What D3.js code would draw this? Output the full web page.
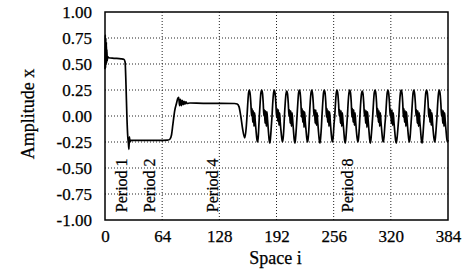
<!DOCTYPE html>
<html>
<head>
<meta charset="utf-8">
<script src="https://cdn.jsdelivr.net/npm/d3@7"></script>
<style>
  body { margin: 0; background: #fff; }
  svg text { font-family: "Liberation Serif", "Times New Roman", serif; fill: #000; stroke: #000; stroke-width: 0.25px; }
</style>
</head>
<body>
<svg id="chart" width="464" height="275"></svg>
<script>
// tick values
const xTicks = [0, 64, 128, 192, 256, 320, 384];
const yTicks = [-1.00, -0.75, -0.50, -0.25, 0.00, 0.25, 0.50, 0.75, 1.00];

// labels: [text, space i, amplitude at text start]
const periodLabels = [
  ['Period 1', 24.5, -0.925],
  ['Period 2', 56, -0.925],
  ['Period 4', 126.5, -0.925],
  ['Period 8', 277.5, -0.925]
];

// transient part [i, x]
const transientPts = [
  [0,0.45],[0.3,0.78],[0.6,0.46],[0.9,0.75],[1.2,0.49],[1.5,0.71],[1.8,0.51],[2.1,0.64],[2.5,0.53],[3,0.57],
  [4,0.56],[10,0.555],[18,0.55],[21,0.545],[22.5,0.52],[23.5,0.3],[24.5,0.0],[25.5,-0.2],[26.2,-0.26],
  [26.8,-0.32],[27.3,-0.2],[28,-0.25],[29,-0.235],[40,-0.235],[60,-0.235],[70,-0.232],[72.5,-0.225],
  [74.5,-0.18],[76,-0.08],[78,0.05],[80,0.12],[81.5,0.17],[82.5,0.18],[83.5,0.10],[84.5,0.16],[85.5,0.10],
  [86.5,0.15],[87.5,0.11],[88.5,0.14],[89.5,0.115],[90.5,0.135],[92,0.12],[95,0.125],[110,0.122],
  [130,0.122],[145,0.12],[148,0.115],[150,0.09],[152,0.0],[154,-0.12],[156.5,-0.21],[158,-0.12]
];

// periodic part, one row per peak
const periodicPts = [
  [159.0,0.0],[159.9,0.13],[160.7,0.22],[161.6,0.25],[162.5,0.21],[163.3,0.12],[164.1,0.0],[164.7,0.07],[165.4,-0.06],[166.1,0.05],[166.8,-0.1],[167.5,0.03],[168.2,-0.05],[169.0,-0.13],[170.0,-0.22],[170.8,-0.25],[171.6,-0.2],[172.2,-0.1],
  [172.8,0.0],[173.7,0.13],[174.5,0.22],[175.4,0.25],[176.3,0.22],[177.1,0.13],[177.9,0.0],[178.5,0.06],[179.2,-0.07],[179.9,0.05],[180.6,-0.1],[181.3,0.04],[182.0,-0.04],[182.8,-0.13],[183.8,-0.23],[184.6,-0.26],[185.4,-0.2],[186.2,-0.1],
  [187.0,0.0],[187.9,0.14],[188.7,0.22],[189.6,0.25],[190.5,0.21],[191.3,0.12],[192.1,-0.01],[192.7,0.07],[193.4,-0.05],[194.1,0.06],[194.8,-0.09],[195.5,0.03],[196.2,-0.06],[197.0,-0.14],[198.0,-0.22],[198.8,-0.25],[199.6,-0.2],[200.4,-0.09],
  [200.9,0.0],[201.8,0.13],[202.6,0.21],[203.5,0.24],[204.4,0.21],[205.2,0.12],[206.0,0.0],[206.6,0.06],[207.3,-0.07],[208.0,0.05],[208.7,-0.1],[209.4,0.03],[210.1,-0.04],[210.9,-0.13],[211.9,-0.23],[212.7,-0.26],[213.5,-0.2],[214.3,-0.1],
  [215.0,0.0],[215.9,0.13],[216.7,0.22],[217.6,0.25],[218.5,0.22],[219.3,0.13],[220.1,-0.01],[220.7,0.07],[221.4,-0.06],[222.1,0.05],[222.8,-0.11],[223.5,0.04],[224.2,-0.05],[225.0,-0.13],[226.0,-0.22],[226.8,-0.25],[227.6,-0.2],[228.4,-0.1],
  [228.9,0.0],[229.8,0.14],[230.6,0.22],[231.5,0.25],[232.4,0.21],[233.2,0.12],[234.0,0.0],[234.6,0.06],[235.3,-0.07],[236.0,0.06],[236.7,-0.09],[237.4,0.03],[238.1,-0.05],[238.9,-0.14],[239.9,-0.23],[240.7,-0.26],[241.5,-0.2],[242.3,-0.1],
  [242.9,0.0],[243.8,0.13],[244.6,0.22],[245.5,0.25],[246.4,0.22],[247.2,0.13],[248.0,-0.01],[248.6,0.07],[249.3,-0.06],[250.0,0.05],[250.7,-0.1],[251.4,0.04],[252.1,-0.04],[252.9,-0.13],[253.9,-0.22],[254.7,-0.25],[255.5,-0.2],[256.3,-0.09],
  [257.2,0.0],[258.1,0.13],[258.9,0.22],[259.8,0.25],[260.7,0.21],[261.5,0.12],[262.3,0.0],[262.9,0.06],[263.6,-0.07],[264.3,0.05],[265.0,-0.1],[265.7,0.03],[266.4,-0.05],[267.2,-0.13],[268.2,-0.23],[269.0,-0.26],[269.8,-0.2],[270.6,-0.1],
  [271.4,0.0],[272.3,0.14],[273.1,0.22],[274.0,0.25],[274.9,0.22],[275.7,0.13],[276.5,-0.01],[277.1,0.07],[277.8,-0.06],[278.5,0.06],[279.2,-0.09],[279.9,0.03],[280.6,-0.05],[281.4,-0.14],[282.4,-0.22],[283.2,-0.25],[284.0,-0.2],[284.8,-0.1],
  [285.4,0.0],[286.3,0.13],[287.1,0.21],[288.0,0.24],[288.9,0.21],[289.7,0.12],[290.5,0.0],[291.1,0.06],[291.8,-0.07],[292.5,0.05],[293.2,-0.11],[293.9,0.04],[294.6,-0.04],[295.4,-0.13],[296.4,-0.23],[297.2,-0.26],[298.0,-0.2],[298.9,-0.1],
  [299.7,0.0],[300.6,0.13],[301.4,0.22],[302.3,0.25],[303.2,0.22],[304.0,0.13],[304.8,-0.01],[305.4,0.07],[306.1,-0.06],[306.8,0.05],[307.5,-0.1],[308.2,0.03],[308.9,-0.05],[309.7,-0.13],[310.7,-0.22],[311.5,-0.25],[312.4,-0.2],[313.3,-0.09],
  [314.2,0.0],[315.1,0.13],[315.9,0.22],[316.8,0.25],[317.7,0.21],[318.5,0.12],[319.3,0.0],[319.9,0.06],[320.6,-0.07],[321.3,0.06],[322.0,-0.09],[322.7,0.03],[323.4,-0.05],[324.3,-0.14],[325.3,-0.23],[326.1,-0.26],[327.1,-0.2],[328.1,-0.1],
  [329.0,0.0],[329.9,0.14],[330.7,0.22],[331.6,0.25],[332.5,0.22],[333.3,0.13],[334.1,-0.01],[334.7,0.07],[335.4,-0.06],[336.1,0.05],[336.8,-0.1],[337.5,0.04],[338.2,-0.04],[339.0,-0.13],[340.0,-0.22],[340.8,-0.25],[341.6,-0.2],[342.4,-0.1],
  [343.2,0.0],[344.1,0.13],[344.9,0.22],[345.8,0.25],[346.7,0.21],[347.5,0.12],[348.3,0.0],[348.9,0.06],[349.6,-0.07],[350.3,0.05],[351.0,-0.1],[351.7,0.03],[352.4,-0.05],[353.2,-0.13],[354.2,-0.23],[355.0,-0.26],[355.8,-0.2],[356.6,-0.1],
  [357.4,0.0],[358.3,0.13],[359.1,0.22],[360.0,0.25],[360.9,0.22],[361.7,0.13],[362.5,-0.01],[363.1,0.07],[363.8,-0.06],[364.5,0.06],[365.2,-0.09],[365.9,0.03],[366.6,-0.05],[367.4,-0.14],[368.4,-0.22],[369.2,-0.25],[370.0,-0.2],[370.9,-0.1],
  [371.7,0.0],[372.6,0.14],[373.4,0.22],[374.3,0.25],[375.2,0.21],[376.0,0.12],[376.8,0.0],[377.4,0.06],[378.1,-0.07],[378.8,0.05],[379.5,-0.1],[380.2,0.03],[380.9,-0.05],[381.7,-0.13],[382.7,-0.22],[383.5,-0.25],[384,-0.23]
];

const svg = d3.select('#chart');
const margin = {top: 12, right: 16, bottom: 55, left: 105};
const width = +svg.attr('width') - margin.left - margin.right,
      height = +svg.attr('height') - margin.top - margin.bottom;

const x = d3.scaleLinear().domain([0, 384]).range([0, width]);
const y = d3.scaleLinear().domain([-1, 1]).range([height, 0]);

const g = svg.append('g').attr('transform', `translate(${margin.left},${margin.top})`);

// dotted grid
g.append('g').selectAll('line')
  .data(xTicks.slice(1, -1))
  .enter().append('line')
  .attr('x1', d => x(d)).attr('x2', d => x(d))
  .attr('y1', 0).attr('y2', height)
  .attr('stroke', '#222').attr('stroke-width', 1).attr('stroke-dasharray', '1,2');
g.append('g').selectAll('line')
  .data(yTicks.slice(1, -1))
  .enter().append('line')
  .attr('x1', 0).attr('x2', width)
  .attr('y1', d => y(d)).attr('y2', d => y(d))
  .attr('stroke', '#222').attr('stroke-width', 1).attr('stroke-dasharray', '1,2');

// the signal
const line = d3.line()
  .x(d => x(d[0]))
  .y(d => y(d[1]))
  .curve(d3.curveMonotoneX);

g.append('path')
  .datum(transientPts.concat(periodicPts))
  .attr('fill', 'none')
  .attr('stroke', '#000')
  .attr('stroke-width', 1.7)
  .attr('stroke-linejoin', 'round')
  .attr('d', line);

// frame
g.append('rect')
  .attr('width', width).attr('height', height)
  .attr('fill', 'none').attr('stroke', '#000').attr('stroke-width', 1.5);

// axes
const fmtY = d => (d < 0 ? '-' : '') + Math.abs(d).toFixed(2);
const xAxis = g.append('g')
  .attr('transform', `translate(0,${height})`)
  .call(d3.axisBottom(x).tickValues(xTicks).tickSize(0).tickPadding(10).tickFormat(d3.format('d')));
const yAxis = g.append('g')
  .call(d3.axisLeft(y).tickValues(yTicks).tickSize(0).tickPadding(13).tickFormat(fmtY));
[xAxis, yAxis].forEach(a => {
  a.select('.domain').remove();
  a.selectAll('text').attr('font-family', '"Liberation Serif", serif').attr('font-size', 17).attr('fill', '#000');
});

// period labels
g.selectAll('text.period')
  .data(periodLabels)
  .enter().append('text')
  .attr('class', 'period')
  .attr('transform', d => `translate(${x(d[1])},${y(d[2])}) rotate(-90)`)
  .attr('font-size', 16)
  .text(d => d[0]);

// axis titles
svg.append('text')
  .attr('x', margin.left + width / 2 - 1)
  .attr('y', 264)
  .attr('text-anchor', 'middle')
  .attr('font-size', 18)
  .text('Space i');

svg.append('text')
  .attr('transform', `translate(34,114) rotate(-90)`)
  .attr('text-anchor', 'middle')
  .attr('font-size', 18)
  .text('Amplitude x');
</script>
</body>
</html>
